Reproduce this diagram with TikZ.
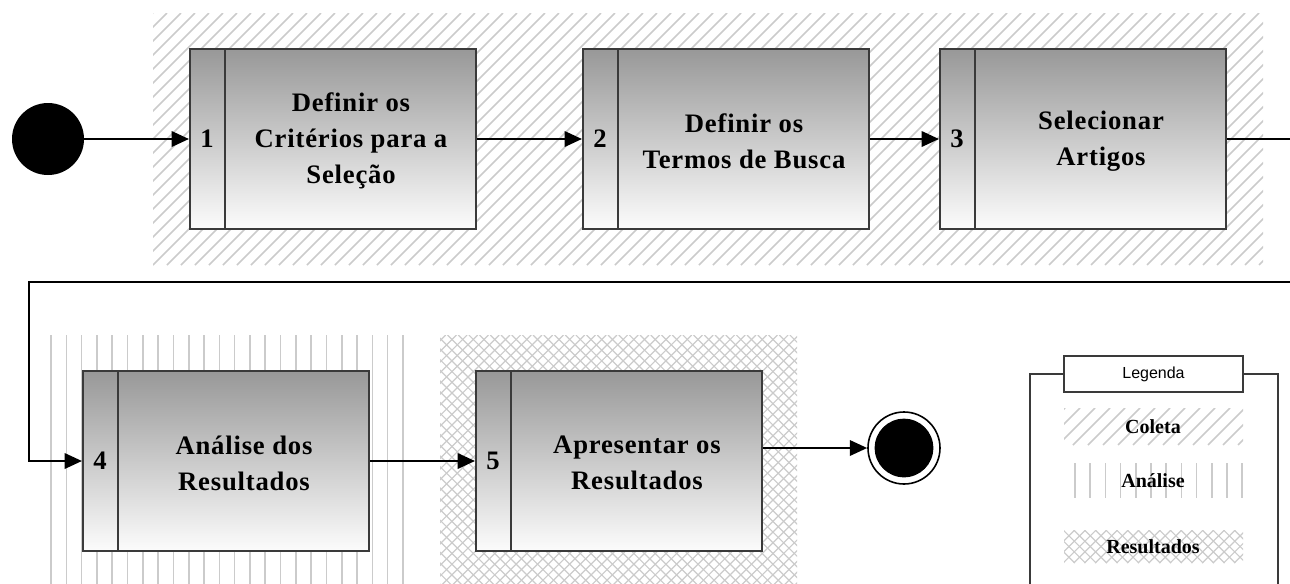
\documentclass[tikz,border=0pt]{standalone}
\usepackage{fontspec}
\setmainfont{Liberation Serif}
\newfontfamily\legsans{Liberation Sans}
\usetikzlibrary{arrows.meta}
\definecolor{boxtop}{HTML}{989898}
\definecolor{boxbot}{HTML}{FCFCFC}
\definecolor{boxline}{HTML}{3A3A3A}
\definecolor{hatchgray}{HTML}{CBCBCB}
\begin{document}
\begin{tikzpicture}[x=0.75pt,y=-0.75pt,
  stepbox/.style={draw=boxline, line width=1.5pt, top color=boxtop, bottom color=boxbot,
    minimum width=214.5pt, minimum height=135pt, inner sep=0pt},
  divider/.style={draw=boxline, line width=1.5pt},
  steptext/.style={font=\bfseries\addfontfeature{LetterSpace=3}\fontsize{20}{27}\selectfont,
    align=center, inner sep=0pt},
  stepnum/.style={font=\bfseries\fontsize{20}{27}\selectfont, inner sep=0pt},
  arr/.style={line width=1.8pt, -{Triangle[length=13pt,width=11.5pt]}},
  hatch/.style={draw=hatchgray, line width=1.2pt},
  xhatch/.style={draw=hatchgray, line width=0.9pt},
  legtext/.style={font=\bfseries\fontsize{15}{18}\selectfont, inner sep=0pt},
  legline/.style={draw=boxline, line width=1.5pt}
]
\useasboundingbox (0,0) rectangle (1290,583);

% --- background patterns of the phases ---
% Coleta: diagonal hatch
\begin{scope}
  \clip (153,13) rectangle (1263,265);
  \foreach \i in {0,...,102} \draw[hatch] (-99+\i*14,265) -- ++(252,-252);
\end{scope}
% Análise: vertical lines
\begin{scope}
  \clip (48,335) rectangle (406,590);
  \foreach \i in {0,...,23} \draw[hatch] (51+\i*15.3,335) -- ++(0,260);
\end{scope}
% Resultados: cross hatch
\begin{scope}
  \clip (440,335) rectangle (797,590);
  \foreach \i in {0,...,58} {
    \draw[xhatch] (435+\i*10.7,590) -- ++(-255,-255);
    \draw[xhatch] (435+\i*10.7,335) -- ++(-255,255);
  }
\end{scope}

% --- process steps ---
\node[stepbox] (b1) at (333,139) {};
\node[stepbox] (b2) at (726,139) {};
\node[stepbox] (b3) at (1083,139) {};
\node[stepbox] (b4) at (226,461) {};
\node[stepbox] (b5) at (619,461) {};
\foreach \b in {b1,b2,b3,b4,b5}
  \draw[divider] ([xshift=27pt]\b.north west) -- ([xshift=27pt]\b.south west);

\node[stepnum] (n1) at ([xshift=13.5pt]b1.west) {1};
\node[stepnum] (n2) at ([xshift=13.5pt]b2.west) {2};
\node[stepnum] (n3) at ([xshift=13.5pt]b3.west) {3};
\node[stepnum] (n4) at ([xshift=13.5pt]b4.west) {4};
\node[stepnum] (n5) at ([xshift=13.5pt]b5.west) {5};

\node[steptext] (t1) at ([xshift=13.5pt,yshift=-1.5pt]b1.center) {Definir os\\Critérios para a\\Seleção};
\node[steptext] (t2) at ([xshift=13.5pt,yshift=-1.5pt]b2.center) {Definir os\\Termos de Busca};
\node[steptext] (t3) at ([xshift=13.5pt,yshift=-1.5pt]b3.center) {Selecionar\\Artigos};
\node[steptext] (t4) at ([xshift=13.5pt,yshift=-1.5pt]b4.center) {Análise dos\\Resultados};
\node[steptext] (t5) at ([xshift=13.5pt,yshift=-1.5pt]b5.center) {Apresentar os\\Resultados};

% --- start and end states ---
\node[circle, fill=black, minimum size=54pt, inner sep=0pt] (start) at (48,139) {};
\node[circle, draw=black, line width=1.2pt, fill=white, minimum size=54pt, inner sep=0pt] (end) at (904,448) {};
\node[circle, fill=black, minimum size=44pt, inner sep=0pt] (endin) at (end.center) {};

% --- flow ---
\coordinate (r1) at (1310,139);
\coordinate (l1) at (29,282);
\draw[arr] (start) -- (b1);
\draw[arr] (b1) -- (b2);
\draw[arr] (b2) -- (b3);
\draw[arr] (b3.east) -- (r1) |- (l1) |- (b4.west);
\draw[arr] (b4) -- (b5);
\draw[arr] (b5.east |- end.west) -- (end.west);

% --- legend ---
\node[draw=boxline, line width=1.5pt, fill=white, minimum width=134.25pt, minimum height=27pt,
  inner sep=0pt, font=\legsans\fontsize{12}{14}\selectfont] (legtitle) at (1153.5,374) {Legenda};
\draw[legline] (1030,600) |- (legtitle.west);
\draw[legline] (legtitle.east) -| (1278,600);

\begin{scope}
  \clip (1064,408) rectangle (1243,445);
  \foreach \i in {0,...,16} \draw[hatch] (1028+\i*15,445) -- ++(37,-37);
\end{scope}
\foreach \i in {0,...,11} \draw[hatch] (1075+\i*15.2,463) -- ++(0,35);
\begin{scope}
  \clip (1064,530) rectangle (1243,563);
  \foreach \i in {0,...,20} {
    \draw[xhatch] (1064+\i*10.7,563) -- ++(-33,-33);
    \draw[xhatch] (1064+\i*10.7,530) -- ++(-33,33);
  }
\end{scope}
\node[legtext] (lc) at (1153,427) {Coleta};
\node[legtext] (la) at (1153,481) {Análise};
\node[legtext] (lr) at (1153,547) {Resultados};
\end{tikzpicture}
\end{document}
